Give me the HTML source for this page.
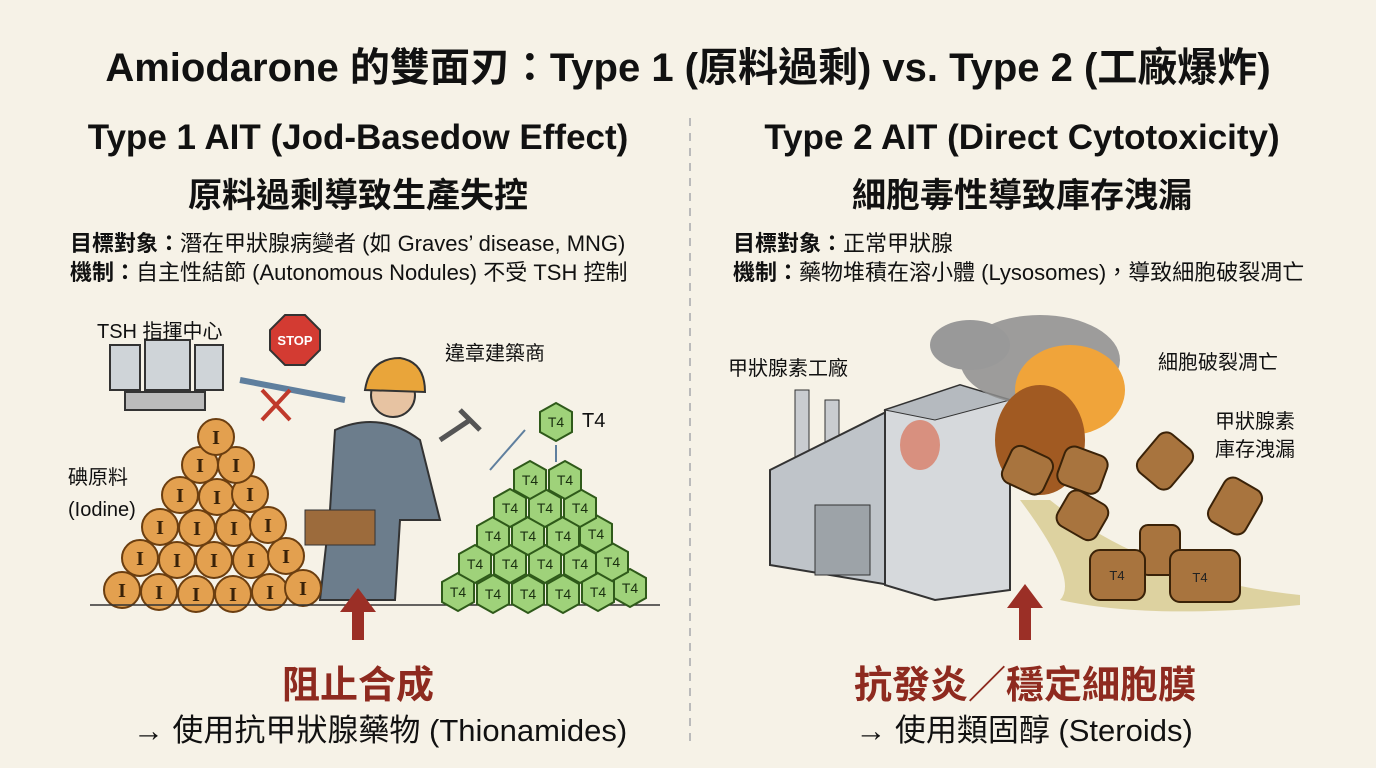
<!DOCTYPE html>
<html><head><meta charset="utf-8"><style>
body{margin:0;width:1376px;height:768px;background:#f6f2e7;overflow:hidden;position:relative;font-family:"Liberation Sans","Noto Sans CJK TC",sans-serif;color:#111}
.t{position:absolute;white-space:nowrap}
.c{transform:translateX(-50%)}
b{font-weight:700}
</style></head><body>
<svg width="1376" height="768" style="position:absolute;left:0;top:0">
<line x1="690" y1="118" x2="690" y2="745" stroke="#bbb" stroke-width="2" stroke-dasharray="8,7"/>
<g stroke="#333" stroke-width="2" fill="#cfd4d8">
<rect x="110" y="345" width="30" height="45"/><rect x="145" y="340" width="45" height="50"/><rect x="195" y="345" width="28" height="45"/>
<rect x="125" y="392" width="80" height="18" fill="#bbb"/>
</g>
<polygon points="285,315 305,315 320,330 320,350 305,365 285,365 270,350 270,330" fill="#d33b32" stroke="#333" stroke-width="2"/>
<text x="295" y="345" font-size="13" fill="#fff" text-anchor="middle" font-weight="700" font-family="Liberation Sans">STOP</text>
<line x1="240" y1="380" x2="345" y2="400" stroke="#5f7f9e" stroke-width="6"/>
<path d="M262,390 L290,420 M290,390 L262,420" stroke="#c0392b" stroke-width="4"/>
<path d="M335,430 Q380,410 420,440 L440,520 L400,520 L395,600 L320,600 L330,510 Z" fill="#6c7d8c" stroke="#333" stroke-width="2"/>
<circle cx="393" cy="395" r="22" fill="#e7c3a2" stroke="#333" stroke-width="2"/>
<path d="M365,390 Q370,358 400,358 Q425,362 425,392 Z" fill="#e9a53a" stroke="#333" stroke-width="2"/>
<rect x="305" y="510" width="70" height="35" fill="#9c6b3c" stroke="#333"/>
<path d="M440,440 L470,420 M460,410 L480,430" stroke="#555" stroke-width="5"/>
<g stroke="#6b3e10" stroke-width="2" fill="#e3a04f">
<circle cx="122" cy="590" r="18"/><circle cx="159" cy="592" r="18"/><circle cx="196" cy="594" r="18"/><circle cx="233" cy="594" r="18"/><circle cx="270" cy="592" r="18"/><circle cx="303" cy="588" r="18"/>
<circle cx="140" cy="558" r="18"/><circle cx="177" cy="560" r="18"/><circle cx="214" cy="560" r="18"/><circle cx="251" cy="560" r="18"/><circle cx="286" cy="556" r="18"/>
<circle cx="160" cy="527" r="18"/><circle cx="197" cy="528" r="18"/><circle cx="234" cy="528" r="18"/><circle cx="268" cy="525" r="18"/>
<circle cx="180" cy="495" r="18"/><circle cx="217" cy="497" r="18"/><circle cx="250" cy="494" r="18"/>
<circle cx="200" cy="465" r="18"/><circle cx="236" cy="465" r="18"/><circle cx="216" cy="437" r="18"/>
</g>
<g font-family="Liberation Serif" font-size="20" font-weight="700" text-anchor="middle" fill="#3a2208">
<text x="122" y="597">I</text><text x="159" y="599">I</text><text x="196" y="601">I</text><text x="233" y="601">I</text><text x="270" y="599">I</text><text x="303" y="595">I</text>
<text x="140" y="565">I</text><text x="177" y="567">I</text><text x="214" y="567">I</text><text x="251" y="567">I</text><text x="286" y="563">I</text>
<text x="160" y="534">I</text><text x="197" y="535">I</text><text x="234" y="535">I</text><text x="268" y="532">I</text>
<text x="180" y="502">I</text><text x="217" y="504">I</text><text x="250" y="501">I</text>
<text x="200" y="472">I</text><text x="236" y="472">I</text><text x="216" y="444">I</text>
</g>
<line x1="90" y1="605" x2="660" y2="605" stroke="#333" stroke-width="1.5"/>
<defs><polygon id="h" points="0,-19 16,-10 16,10 0,19 -16,10 -16,-10" fill="#9fd27a" stroke="#2f5a1a" stroke-width="2"/></defs>
<g>
<use href="#h" x="458" y="592"/><use href="#h" x="493" y="594"/><use href="#h" x="528" y="594"/><use href="#h" x="563" y="594"/><use href="#h" x="598" y="592"/><use href="#h" x="630" y="588"/>
<use href="#h" x="475" y="564"/><use href="#h" x="510" y="564"/><use href="#h" x="545" y="564"/><use href="#h" x="580" y="564"/><use href="#h" x="612" y="562"/>
<use href="#h" x="493" y="536"/><use href="#h" x="528" y="536"/><use href="#h" x="563" y="536"/><use href="#h" x="596" y="534"/>
<use href="#h" x="510" y="508"/><use href="#h" x="545" y="508"/><use href="#h" x="580" y="508"/>
<use href="#h" x="530" y="480"/><use href="#h" x="565" y="480"/>
<use href="#h" x="556" y="422"/>
</g>
<g font-size="14" text-anchor="middle" fill="#1a3010" font-family="Liberation Sans">
<text x="458" y="597">T4</text><text x="493" y="599">T4</text><text x="528" y="599">T4</text><text x="563" y="599">T4</text><text x="598" y="597">T4</text><text x="630" y="593">T4</text>
<text x="475" y="569">T4</text><text x="510" y="569">T4</text><text x="545" y="569">T4</text><text x="580" y="569">T4</text><text x="612" y="567">T4</text>
<text x="493" y="541">T4</text><text x="528" y="541">T4</text><text x="563" y="541">T4</text><text x="596" y="539">T4</text>
<text x="510" y="513">T4</text><text x="545" y="513">T4</text><text x="580" y="513">T4</text>
<text x="530" y="485">T4</text><text x="565" y="485">T4</text><text x="556" y="427">T4</text>
</g>
<path d="M490,470 L525,430" stroke="#5f7f9e" stroke-width="2"/><path d="M556,445 L556,462" stroke="#5f7f9e" stroke-width="2"/>
<path d="M352,640 L352,612 L340,612 L358,588 L376,612 L364,612 L364,640 Z" fill="#9b2f26"/>
<path d="M1019,640 L1019,608 L1007,608 L1025,584 L1043,608 L1031,608 L1031,640 Z" fill="#9b2f26"/>
<rect x="795" y="390" width="14" height="90" fill="#c9ccd0" stroke="#333"/><rect x="825" y="400" width="14" height="80" fill="#c9ccd0" stroke="#333"/>
<polygon points="770,470 890,410 890,585 770,565" fill="#bfc4c9" stroke="#333" stroke-width="2"/>
<rect x="815" y="505" width="55" height="70" fill="#9da3a8" stroke="#333"/>
<polygon points="885,410 960,385 1010,400 1010,590 935,600 885,585" fill="#d6d9dc" stroke="#333" stroke-width="2"/>
<polygon points="885,410 960,385 1010,400 935,420" fill="#b5babf" stroke="#333"/>
<ellipse cx="920" cy="445" rx="20" ry="25" fill="#d8907f"/>
<ellipse cx="1040" cy="360" rx="80" ry="45" fill="#8d8d8d" opacity=".85"/>
<ellipse cx="970" cy="345" rx="40" ry="25" fill="#999"/>
<ellipse cx="1070" cy="390" rx="55" ry="45" fill="#f0a43a"/>
<ellipse cx="1040" cy="440" rx="45" ry="55" fill="#a15a22"/>
<path d="M1020,500 Q1080,580 1060,600 Q1150,620 1300,605 L1300,595 Q1150,580 1050,500 Z" fill="#d7c98e" opacity=".8"/>
<g fill="#a8743e" stroke="#3a2208" stroke-width="2">
<rect x="1005" y="450" width="45" height="40" rx="10" transform="rotate(25 1027 470)"/>
<rect x="1060" y="450" width="45" height="40" rx="10" transform="rotate(20 1082 470)"/>
<rect x="1060" y="495" width="45" height="40" rx="10" transform="rotate(30 1082 515)"/>
<rect x="1140" y="440" width="50" height="42" rx="10" transform="rotate(-50 1165 461)"/>
<rect x="1210" y="485" width="50" height="42" rx="10" transform="rotate(-60 1235 506)"/>
<rect x="1140" y="525" width="40" height="50" rx="8"/>
<rect x="1090" y="550" width="55" height="50" rx="10"/>
<rect x="1170" y="550" width="70" height="52" rx="10"/>
</g>
<g font-size="13" fill="#222" text-anchor="middle"><text x="1117" y="580">T4</text><text x="1200" y="582">T4</text></g>
</svg>

<div class="t c" style="left:688px;top:35px;font-size:40px;font-weight:700">Amiodarone 的雙面刃：Type 1 (原料過剩) vs. Type 2 (工廠爆炸)</div>

<div class="t c" style="left:358px;top:118px;font-size:35px;font-weight:700">Type 1 AIT (Jod-Basedow Effect)</div>
<div class="t c" style="left:358px;top:168px;font-size:34px;font-weight:700">原料過剩導致生產失控</div>
<div class="t" style="left:70px;top:229px;font-size:22px;line-height:29px"><b>目標對象：</b>潛在甲狀腺病變者 (如 Graves’ disease, MNG)<br><b>機制：</b>自主性結節 (Autonomous Nodules) 不受 TSH 控制</div>

<div class="t c" style="left:1022px;top:118px;font-size:35px;font-weight:700">Type 2 AIT (Direct Cytotoxicity)</div>
<div class="t c" style="left:1022px;top:168px;font-size:34px;font-weight:700">細胞毒性導致庫存洩漏</div>
<div class="t" style="left:733px;top:229px;font-size:22px;line-height:29px"><b>目標對象：</b>正常甲狀腺<br><b>機制：</b>藥物堆積在溶小體 (Lysosomes)，導致細胞破裂凋亡</div>

<div class="t" style="left:97px;top:315px;font-size:20px">TSH 指揮中心</div>
<div class="t" style="left:445px;top:337px;font-size:20px">違章建築商</div>
<div class="t" style="left:582px;top:410px;font-size:20px">T4</div>
<div class="t" style="left:68px;top:462px;font-size:20px;line-height:32px">碘原料<br>(Iodine)</div>
<div class="t" style="left:728px;top:352px;font-size:20px">甲狀腺素工廠</div>
<div class="t" style="left:1158px;top:346px;font-size:20px">細胞破裂凋亡</div>
<div class="t" style="left:1215px;top:408px;font-size:20px;line-height:28px">甲狀腺素<br>庫存洩漏</div>

<div class="t c" style="left:358px;top:654px;font-size:38px;font-weight:700;color:#8e2a1f">阻止合成</div>
<div class="t c" style="left:380px;top:705px;font-size:31px">→ 使用抗甲狀腺藥物 (Thionamides)</div>
<div class="t c" style="left:1025px;top:654px;font-size:38px;font-weight:700;color:#8e2a1f">抗發炎／穩定細胞膜</div>
<div class="t c" style="left:1024px;top:705px;font-size:31px">→ 使用類固醇 (Steroids)</div>
</body></html>
